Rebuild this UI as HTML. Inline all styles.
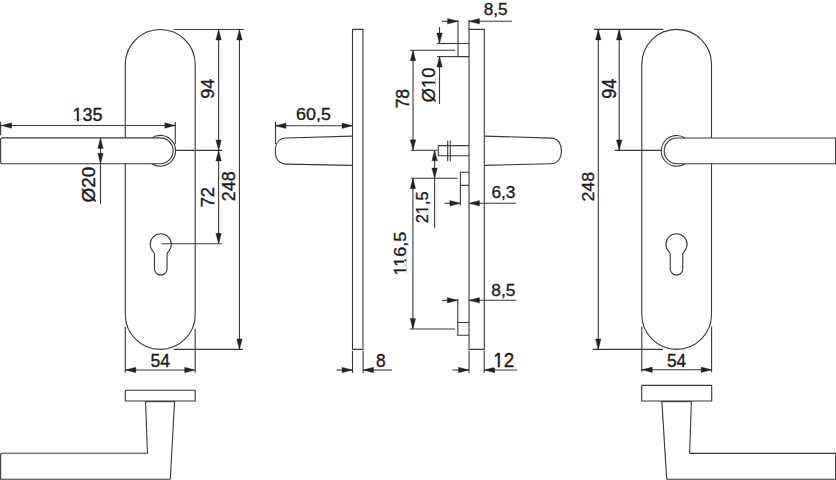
<!DOCTYPE html>
<html><head><meta charset="utf-8"><style>
html,body{margin:0;padding:0;background:#fff;width:836px;height:480px;overflow:hidden}
svg{display:block}
.g line,.g path{fill:none;stroke:#383838;stroke-width:1.1;stroke-linecap:butt;stroke-linejoin:miter}
.g polygon.a{fill:#222;stroke:#222;stroke-width:0.35;stroke-linejoin:round}
.t{opacity:0.995}
.t rect{fill:#fff}
.t text{stroke:#1a1a1a;stroke-width:0.02;font-family:"Liberation Sans",sans-serif;font-size:1px;fill:#1a1a1a}
</style></head><body>
<svg width="836" height="480" viewBox="0 0 836 480">
<g class="g">
<path d="M125.3,137.9 V64.45 A34.95,34.95 0 0 1 195.2,64.45 V314.45 A34.95,34.95 0 0 1 125.3,314.45 V163.75"/>
<path d="M160.2,137.9 H2.3 Q0.6,137.9 0.6,139.6 V162.05 Q0.6,163.75 2.3,163.75 H160.2 A12.92,12.92 0 0 0 160.2,137.9"/>
<path d="M151.83,137.9 A15.4,15.4 0 1 1 151.83,163.75"/>
<line x1="0.6" y1="121.8" x2="0.6" y2="135.3"/>
<line x1="175.3" y1="122" x2="175.3" y2="144.2"/>
<line x1="1" y1="125.5" x2="175.3" y2="125.5"/>
<polygon class="a" points="1.2,125.5 11.7,122.75 11.7,128.25"/>
<polygon class="a" points="175.3,125.5 164.8,122.75 164.8,128.25"/>
<line x1="100.5" y1="138" x2="100.5" y2="203.8"/>
<polygon class="a" points="100.5,137.9 97.75,148.4 103.25,148.4"/>
<polygon class="a" points="100.5,163.75 97.75,153.25 103.25,153.25"/>
<line x1="173.5" y1="29.5" x2="243.8" y2="29.5"/>
<line x1="175.4" y1="150.4" x2="222" y2="150.4"/>
<line x1="161.4" y1="243.8" x2="222" y2="243.8"/>
<line x1="173.7" y1="349.4" x2="242.8" y2="349.4"/>
<line x1="218.6" y1="29.5" x2="218.6" y2="243.8"/>
<polygon class="a" points="218.6,29.5 215.85,40 221.35,40"/>
<polygon class="a" points="218.6,150.4 215.85,139.9 221.35,139.9"/>
<polygon class="a" points="218.6,150.4 215.85,160.9 221.35,160.9"/>
<polygon class="a" points="218.6,243.8 215.85,233.3 221.35,233.3"/>
<line x1="239.45" y1="29.5" x2="239.45" y2="349.4"/>
<polygon class="a" points="239.45,29.5 236.7,40 242.2,40"/>
<polygon class="a" points="239.45,349.4 236.7,338.9 242.2,338.9"/>
<path d="M154.45,254.09 Q154.45,252.59 153.15,251.69 A10.6,10.6 0 1 1 168.35,251.69 Q167.05,252.59 167.05,254.09 V268.8 A6.3,6.3 0 0 1 154.45,268.8 Z"/>
<line x1="125.3" y1="327" x2="125.3" y2="372.7"/>
<line x1="195.2" y1="328.7" x2="195.2" y2="372.7"/>
<line x1="125.3" y1="370" x2="195.2" y2="370"/>
<polygon class="a" points="125.3,370 135.8,367.25 135.8,372.75"/>
<polygon class="a" points="195.2,370 184.7,367.25 184.7,372.75"/>
<path d="M125.3,390.2 H195.2 V401 H125.3 Z"/>
<line x1="145.5" y1="401.6" x2="174.6" y2="401.6"/>
<line x1="145.5" y1="401" x2="147.5" y2="453.2"/>
<line x1="174.6" y1="401" x2="170.3" y2="479.2"/>
<path d="M147.5,453.2 H2 Q0.6,453.2 0.6,454.6 V479.2 H170.3"/>
<path d="M352.5,29.4 H363 V349.4 H352.5 Z"/>
<path d="M352.5,136.1 L286,138 C278.5,138.2 275.3,144 275.3,151.2 C275.3,158.5 279,164 287.5,164.1 L352.5,165.4"/>
<line x1="275.5" y1="121.7" x2="275.5" y2="144"/>
<line x1="275.5" y1="125.8" x2="352.5" y2="125.8"/>
<polygon class="a" points="275.5,125.8 286,123.05 286,128.55"/>
<polygon class="a" points="352.5,125.8 342,123.05 342,128.55"/>
<line x1="352.5" y1="350.8" x2="352.5" y2="373"/>
<line x1="363.1" y1="350.8" x2="363.1" y2="373"/>
<line x1="336.5" y1="370" x2="352.5" y2="370"/>
<polygon class="a" points="352.5,370 342,367.25 342,372.75"/>
<line x1="363" y1="370" x2="392" y2="370"/>
<polygon class="a" points="363,370 373.5,367.25 373.5,372.75"/>
<path d="M469,29.4 H484.3 V349.4 H469 Z"/>
<path d="M469,43.5 H458 V56.6 H469"/>
<line x1="458" y1="20" x2="458" y2="43.5"/>
<line x1="469" y1="20" x2="469" y2="29.4"/>
<line x1="441.9" y1="21.3" x2="458" y2="21.3"/>
<polygon class="a" points="458,21.3 447.5,18.55 447.5,24.05"/>
<line x1="469" y1="21.3" x2="512" y2="21.3"/>
<polygon class="a" points="469,21.3 479.5,18.55 479.5,24.05"/>
<line x1="436.9" y1="43.5" x2="458" y2="43.5"/>
<line x1="436.9" y1="56.6" x2="458" y2="56.6"/>
<line x1="439.5" y1="27" x2="439.5" y2="43.5"/>
<polygon class="a" points="439.5,43.5 436.75,33 442.25,33"/>
<line x1="439.5" y1="56.6" x2="439.5" y2="103.8"/>
<polygon class="a" points="439.5,56.6 436.75,67.1 442.25,67.1"/>
<line x1="410" y1="50.3" x2="455" y2="50.3"/>
<line x1="413" y1="50.3" x2="413" y2="150.3"/>
<polygon class="a" points="413,50.3 410.25,60.8 415.75,60.8"/>
<polygon class="a" points="413,150.3 410.25,139.8 415.75,139.8"/>
<line x1="410.7" y1="150.3" x2="437.3" y2="150.3"/>
<path d="M469,145.6 H438.3 V155.8 H469"/>
<line x1="447.7" y1="140.4" x2="447.7" y2="161.3"/>
<line x1="450.3" y1="140.4" x2="450.3" y2="161.3"/>
<line x1="434.6" y1="150.3" x2="434.6" y2="227.7"/>
<polygon class="a" points="434.6,150.3 431.85,160.8 437.35,160.8"/>
<polygon class="a" points="434.6,178.4 431.85,167.9 437.35,167.9"/>
<line x1="410.8" y1="178.3" x2="457.7" y2="178.3"/>
<path d="M469,172.3 H460.4 V185.4 H469"/>
<line x1="460.4" y1="185.4" x2="460.4" y2="205.4"/>
<line x1="444.6" y1="203.3" x2="460.4" y2="203.3"/>
<polygon class="a" points="460.4,203.3 449.9,200.55 449.9,206.05"/>
<line x1="469" y1="203.3" x2="516" y2="203.3"/>
<polygon class="a" points="469,203.3 479.5,200.55 479.5,206.05"/>
<line x1="412.9" y1="178.3" x2="412.9" y2="328.9"/>
<polygon class="a" points="412.9,178.3 410.15,188.8 415.65,188.8"/>
<polygon class="a" points="412.9,328.9 410.15,318.4 415.65,318.4"/>
<line x1="410" y1="329" x2="455" y2="329"/>
<path d="M469,322.5 H457.8 V335.2 H469"/>
<line x1="457.8" y1="298.8" x2="457.8" y2="322.5"/>
<line x1="441.9" y1="300.3" x2="457.8" y2="300.3"/>
<polygon class="a" points="457.8,300.3 447.3,297.55 447.3,303.05"/>
<line x1="469" y1="300.3" x2="516.3" y2="300.3"/>
<polygon class="a" points="469,300.3 479.5,297.55 479.5,303.05"/>
<line x1="469" y1="350.8" x2="469" y2="373"/>
<line x1="484.2" y1="350.8" x2="484.2" y2="373"/>
<line x1="452.4" y1="370" x2="469" y2="370"/>
<polygon class="a" points="469,370 458.5,367.25 458.5,372.75"/>
<line x1="484.2" y1="370" x2="517.3" y2="370"/>
<polygon class="a" points="484.2,370 494.7,367.25 494.7,372.75"/>
<path d="M484.4,136.1 L551,138.1 C558.5,138.3 561.5,144.5 561.5,151 C561.5,157.5 558.5,163.6 551,163.75 L484.4,165.4"/>
<path d="M711.5,163.75 V314.55 A34.85,34.85 0 0 1 641.8,314.55 V64.25 A34.85,34.85 0 0 1 711.5,64.25 V137.9"/>
<path d="M676.7,138 H835.6 V163.75 H676.7 A12.88,12.88 0 0 1 676.7,138"/>
<path d="M685.15,138 A15.4,15.4 0 1 0 685.15,163.75"/>
<line x1="614.7" y1="150.4" x2="661.3" y2="150.4"/>
<line x1="593.8" y1="29.4" x2="663.3" y2="29.4"/>
<line x1="592.9" y1="349.4" x2="662.9" y2="349.4"/>
<line x1="619.2" y1="29.4" x2="619.2" y2="150.4"/>
<polygon class="a" points="619.2,29.4 616.45,39.9 621.95,39.9"/>
<polygon class="a" points="619.2,150.4 616.45,139.9 621.95,139.9"/>
<line x1="598.3" y1="29.4" x2="598.3" y2="349.4"/>
<polygon class="a" points="598.3,29.4 595.55,39.9 601.05,39.9"/>
<polygon class="a" points="598.3,349.4 595.55,338.9 601.05,338.9"/>
<path d="M670.2,254.09 Q670.2,252.59 668.9,251.69 A10.6,10.6 0 1 1 684.1,251.69 Q682.8,252.59 682.8,254.09 V268.8 A6.3,6.3 0 0 1 670.2,268.8 Z"/>
<line x1="641.8" y1="326.5" x2="641.8" y2="372.3"/>
<line x1="711.6" y1="326.5" x2="711.6" y2="372.3"/>
<line x1="641.8" y1="369.8" x2="711.6" y2="369.8"/>
<polygon class="a" points="641.8,369.8 652.3,367.05 652.3,372.55"/>
<polygon class="a" points="711.6,369.8 701.1,367.05 701.1,372.55"/>
<path d="M641.7,385.4 H711.7 V401 H641.7 Z"/>
<line x1="661.8" y1="401.6" x2="691.4" y2="401.6"/>
<line x1="661.8" y1="401" x2="666.7" y2="479.2"/>
<line x1="691.4" y1="401" x2="689.6" y2="453.4"/>
<path d="M689.6,453.4 H835.6 V479.2 H666.7"/>
</g>
<g class="t">
<g transform="matrix(17.94 0 0 18.36 72.58 121.43)"><text>135</text><rect x="0.0350" y="-0.11" width="0.206" height="0.15"/><rect x="0.3500" y="-0.11" width="0.2" height="0.15"/></g>
<g transform="translate(95.43 202.48) scale(19.21 18.86) rotate(-90)"><text>&#216;20</text></g>
<g transform="translate(214.12 98.84) scale(19.18 18.29) rotate(-90)"><text>94</text></g>
<g transform="translate(214.11 207.33) scale(19.17 18.35) rotate(-90)"><text>72</text></g>
<g transform="translate(235.42 201.22) scale(19.11 17.93) rotate(-90)"><text>248</text></g>
<g transform="matrix(17.5 0 0 19.17 150.53 367.42)"><text>54</text></g>
<g transform="matrix(17.87 0 0 16.33 296.09 119.9)"><text>60,5</text></g>
<g transform="matrix(17.35 0 0 18.63 375.89 367.43)"><text>8</text></g>
<g transform="matrix(17.21 0 0 16.33 483.75 15.45)"><text>8,5</text></g>
<g transform="translate(434.55 102.48) scale(18.68 18.62) rotate(-90)"><text>&#216;10</text><rect x="0.8128" y="-0.11" width="0.206" height="0.15"/><rect x="1.1278" y="-0.11" width="0.2" height="0.15"/></g>
<g transform="translate(409.02 108.61) scale(18.9 17.79) rotate(-90)"><text>78</text></g>
<g transform="translate(428.02 223.31) scale(16.92 16.45) rotate(-90)"><text>21,5</text><rect x="0.5912" y="-0.11" width="0.206" height="0.15"/><rect x="0.9062" y="-0.11" width="0.2" height="0.15"/></g>
<g transform="matrix(17.34 0 0 16.04 491.41 197.99)"><text>6,3</text></g>
<g transform="translate(405.78 275.53) scale(15.74 18.01) rotate(-90)"><text>116,5</text><rect x="0.0350" y="-0.11" width="0.206" height="0.15"/><rect x="0.3500" y="-0.11" width="0.2" height="0.15"/><rect x="0.5912" y="-0.11" width="0.206" height="0.15"/><rect x="0.9062" y="-0.11" width="0.2" height="0.15"/></g>
<g transform="matrix(17.4 0 0 16.04 491.24 296.49)"><text>8,5</text></g>
<g transform="matrix(18.83 0 0 19.86 493.25 367.2)"><text>12</text><rect x="0.0350" y="-0.11" width="0.206" height="0.15"/><rect x="0.3500" y="-0.11" width="0.2" height="0.15"/></g>
<g transform="translate(615.51 98.83) scale(19.32 18.1) rotate(-90)"><text>94</text></g>
<g transform="translate(593.85 201.62) scale(17.4 17.9) rotate(-90)"><text>248</text></g>
<g transform="matrix(17.28 0 0 19.17 666.88 367.42)"><text>54</text></g>
</g>
</svg>
</body></html>
